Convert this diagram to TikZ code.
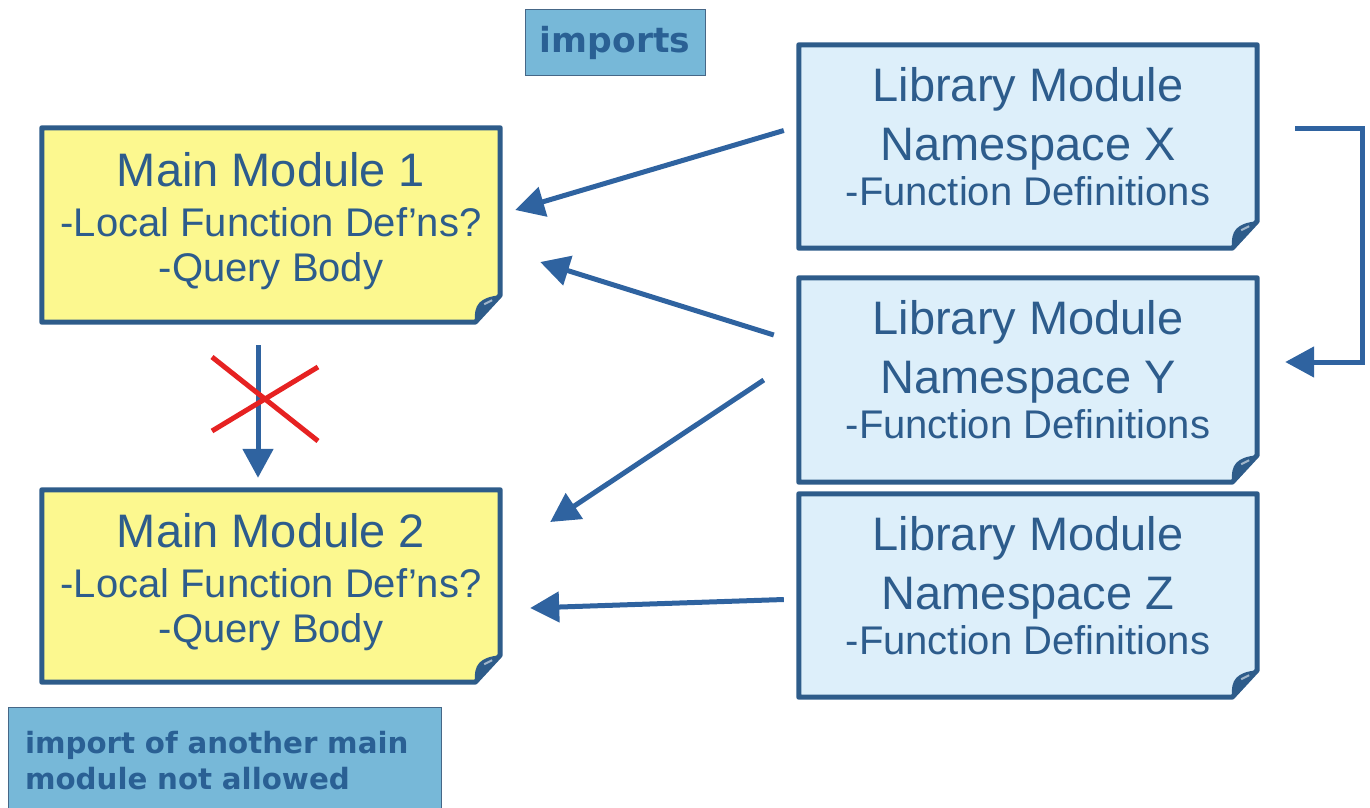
\documentclass[tikz,border=0pt]{standalone}
\usepackage{fontspec}
\setmainfont{Liberation Sans}
\newfontfamily\lblfont{DejaVu Sans}
\usetikzlibrary{arrows.meta,backgrounds}

\definecolor{edgeblue}{HTML}{2E5C8A}
\definecolor{textblue}{HTML}{2D5C8C}
\definecolor{arrowblue}{HTML}{2F63A0}
\definecolor{mainyellow}{HTML}{FCF88F}
\definecolor{libblue}{HTML}{DDEFFA}
\definecolor{tagblue}{HTML}{77B8D8}
\definecolor{tagtext}{HTML}{2A6094}
\definecolor{crossred}{HTML}{E62222}

\tikzset{
  notebox/.style={minimum width=458pt, inner sep=0pt, align=center, text=textblue,
    font=\fontsize{40}{45}\selectfont},
  imp/.style={draw=arrowblue, line width=5pt, -{Triangle[length=29pt,width=30pt]}},
  tag/.style={fill=tagblue, draw=edgeblue!70!gray, line width=1pt, text=tagtext,
    font=\lblfont\bfseries},
  nogo/.style={draw=crossred, line width=5pt}
}
\newcommand\modtitle[1]{{\fontsize{47}{47}\selectfont #1}}
% outline with the folded corner, drawn behind the node text
\newcommand\dogear[2]{%
  \begin{pgfonlayer}{background}
  \draw[edgeblue, line width=5pt, line join=round, fill=#2] (#1.north west) -- (#1.north east)
    -- ([yshift=27pt]#1.south east) -- ([xshift=-25pt]#1.south east) -- (#1.south west) -- cycle;
  \fill[edgeblue] ([yshift=27pt]#1.south east) .. controls +(-20,2) and +(-2,-18)
    .. ([xshift=-25pt]#1.south east) -- cycle;
  \draw[white!55!edgeblue, line width=2pt] ([shift={(-16,-18)}]#1.south east) -- ([shift={(-8,-22)}]#1.south east);
  \end{pgfonlayer}}

\begin{document}
\begin{tikzpicture}[x=1pt, y=-1pt]
  \useasboundingbox (0,0) rectangle (1370,808);

  % main modules
  \node[notebox, minimum height=194pt, text depth=16pt] (mm1) at (271,225)
    {\modtitle{Main Module 1}\\[5pt] -Local Function Def'ns?\\ -Query Body};
  \node[notebox, minimum height=192pt, text depth=16pt] (mm2) at (271,586)
    {\modtitle{Main Module 2}\\[5pt] -Local Function Def'ns?\\ -Query Body};

  % library modules
  \node[notebox, minimum height=203pt, text depth=21pt] (lx) at (1028,146.5)
    {\modtitle{Library Module}\\[14pt] \modtitle{Namespace X}\\ -Function Definitions};
  \node[notebox, minimum height=204pt, text depth=21pt] (ly) at (1028,380)
    {\modtitle{Library Module}\\[14pt] \modtitle{Namespace Y}\\ -Function Definitions};
  \node[notebox, minimum height=203pt, text depth=21pt] (lz) at (1028,595.5)
    {\modtitle{Library Module}\\[14pt] \modtitle{Namespace Z}\\ -Function Definitions};

  \dogear{mm1}{mainyellow}
  \dogear{mm2}{mainyellow}
  \dogear{lx}{libblue}
  \dogear{ly}{libblue}
  \dogear{lz}{libblue}

  % labels
  \node[tag, minimum width=180pt, minimum height=65pt, font=\lblfont\bfseries\fontsize{34.5}{40}\selectfont]
    (imports) at (615,42.5) {imports};
  \node[tag, anchor=north west, minimum height=112pt, text width=400pt, align=left,
        inner xsep=16.5pt, text depth=42pt, font=\lblfont\bfseries\fontsize{29.3}{36}\selectfont] (warn) at (8,707)
    {import of another main\\module not allowed};

  % imports
  \draw[imp] ([shift={(-15,-16)}]lx.west) -- ([shift={(15,-15)}]mm1.east);
  \draw[imp] ([shift={(-25,-45)}]ly.west) -- ([shift={(40,37)}]mm1.east);
  \draw[imp] ([shift={(-35,0)}]ly.west) -- ([shift={(50,-64)}]mm2.east);
  \draw[imp] ([shift={(-15,4)}]lz.west) -- ([shift={(30,22)}]mm2.east);
  \draw[imp] ([shift={(38,-18)}]lx.east) -- ++(67,0) |- ([shift={(28,-18)}]ly.east);

  % main module may not import main module
  \draw[imp] ([shift={(-13,23)}]mm1.south) -- ([shift={(-13,-12)}]mm2.north);
  \coordinate (nx) at (265,399);
  \draw[nogo] ([shift={(-53,-42)}]nx) -- ([shift={(53,42)}]nx);
  \draw[nogo] ([shift={(-53,32)}]nx) -- ([shift={(53,-32)}]nx);
\end{tikzpicture}
\end{document}
